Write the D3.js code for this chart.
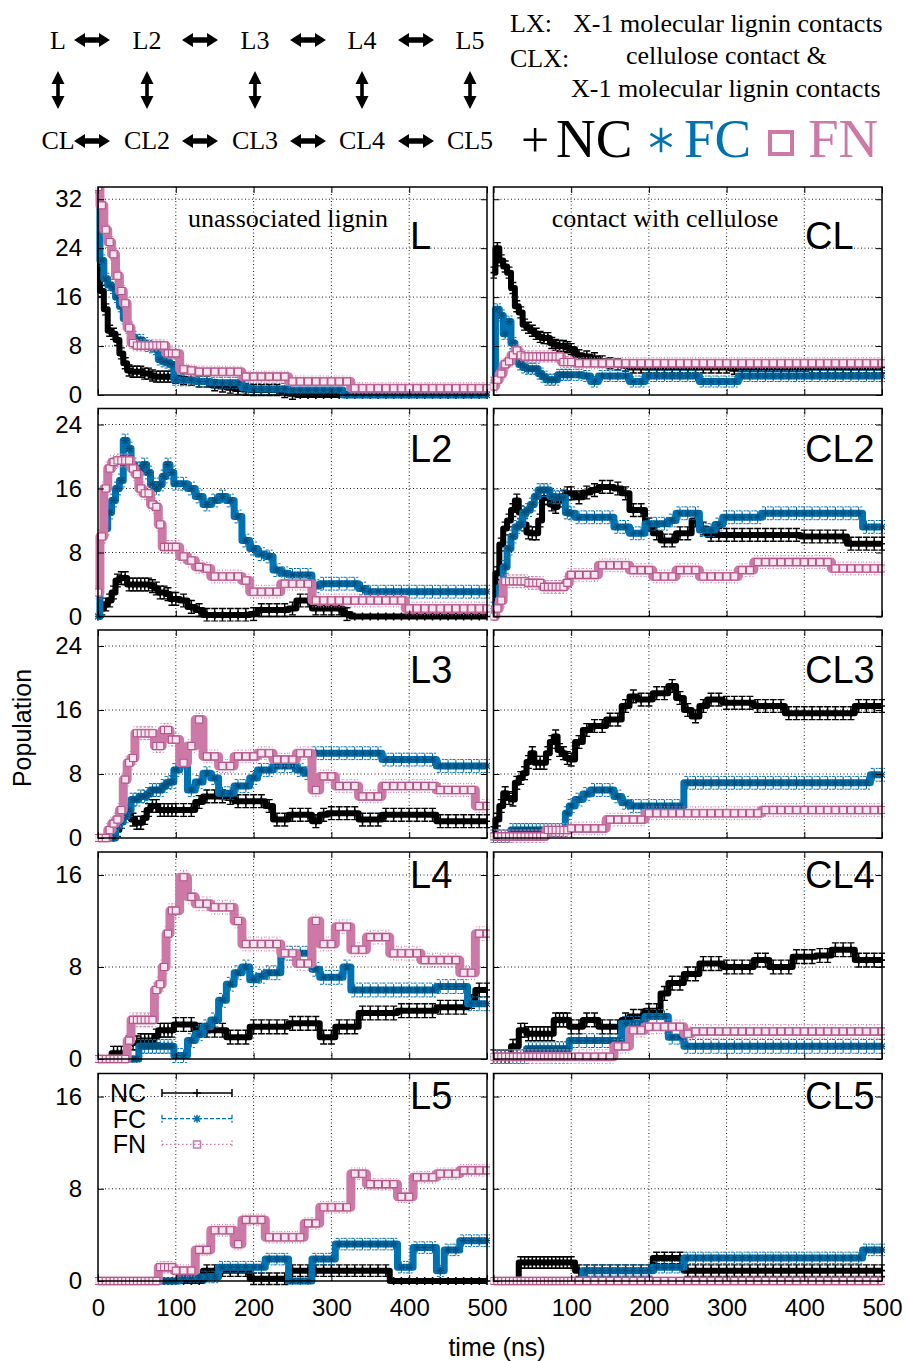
<!DOCTYPE html>
<html>
<head>
<meta charset="utf-8">
<script src="https://cdn.jsdelivr.net/npm/d3@7"></script>
<style>
body { margin: 0; background: #fff; }
svg { display: block; }
</style>
</head>
<body>
<svg id="chart" width="909" height="1361"></svg>
<script>

// time grid (ns) shared by every series
let times = [0, 5, 10, 15, 20, 25, 30, 35, 40, 45, 50, 55, 60, 65, 70, 75, 80, 85, 90, 95, 100,
    110, 120, 130, 140, 150, 160, 170, 180, 190, 200,
    210, 220, 230, 240, 250, 260, 270, 280, 290, 300,
    310, 320, 330, 340, 350, 360, 370, 380, 390, 400,
    410, 420, 430, 440, 450, 460, 470, 480, 490, 500]

let panelNames = ['L', 'CL', 'L2', 'CL2', 'L3', 'CL3', 'L4', 'CL4', 'L5', 'CL5']
let seriesNames = ['NC', 'FC', 'FN']
let rowMax = [34, 26, 26, 18, 18]
let rowTicks = [[0, 8, 16, 24, 32], [0, 8, 16, 24], [0, 8, 16, 24], [0, 8, 16], [0, 8, 16]]
let xTicks = [0, 100, 200, 300, 400, 500]
let errorBars = [0.9, 0.9, 0.8, 0.8, 0.8, 0.8, 0.6, 0.6, 0.5, 0.5]
let topRow = ['L', 'L2', 'L3', 'L4', 'L5']
let bottomRow = ['CL', 'CL2', 'CL3', 'CL4', 'CL5']

// ---- L ----
let ncL = [34, 17, 14, 10.5, 10, 9, 6.8, 5.2, 4, 3.8, 3.8, 3.8, 3.5, 3.5, 3.2, 3, 3, 3, 3, 3, 2.8,
    2.6, 2.5, 2.2, 2.2, 1.6, 1.4, 1.2, 1, 0.9, 0.8,
    0.8, 0.8, 0.8, 0.5, 0.2, 0, 0, 0, 0, 0,
    0, 0, 0, 0, 0, 0, 0, 0, 0, 0,
    0, 0, 0, 0, 0, 0, 0, 0, 0, 0]
let fcL = [34, 22, 19, 18, 17.5, 16, 14.5, 12.5, 11, 9.5, 9, 9, 8.5, 8, 7.8, 7.5, 5.8, 5.5, 5.3, 5, 2.5,
    2.4, 2.4, 2.2, 2.2, 2, 2, 2, 2, 1.2, 1,
    1, 1, 1, 1, 0.8, 0.8, 0.8, 0.8, 0.8, 0.8,
    0.8, 0, 0, 0, 0, 0, 0, 0, 0, 0,
    0, 0, 0, 0, 0, 0, 0, 0, 0, 0]
let fnL = [34, 31, 27, 25, 23, 19.5, 17, 15, 11, 8.5, 8.1, 8.1, 8.1, 8.1, 8.1, 8.1, 8.1, 8.1, 6.8, 6.8, 6.8,
    4.2, 4, 3.8, 3.8, 3.8, 3.8, 3.8, 3.8, 3, 3,
    3, 3, 3, 3, 2.2, 2.2, 2.2, 2.2, 2.2, 2.2,
    2.2, 2.2, 1.1, 1.1, 1.1, 1.1, 1.1, 1.1, 1.1, 1.1,
    1.1, 1.1, 1.1, 1.1, 1.1, 1.1, 1.1, 1.1, 1.1, 1.1]

// ---- CL ----
let ncCL = [20, 24, 22, 21, 20, 17.5, 14.5, 13.5, 11.5, 11, 10.5, 10, 9.5, 9.3, 9.3, 8.5, 8.2, 8, 8, 7.8, 7.5,
    6.5, 6.3, 6, 5.5, 5.2, 5, 4.8, 4.5, 4.5, 4.5,
    4.5, 4.5, 4.5, 4.5, 4.5, 4.5, 4.5, 4.5, 4.5, 4.5,
    4.3, 4.3, 4.3, 4.3, 4.3, 4.3, 4.3, 4.3, 4.3, 4.3,
    4.5, 4.5, 4.5, 4.5, 4.5, 4.5, 4.5, 4.5, 4.5, 4.5]
let fcCL = [2, 14, 13, 10, 12, 8.5, 6, 5, 4.5, 4.3, 4.3, 4.3, 3.5, 3, 2.5, 2.5, 2.5, 3.3, 3.3, 3.3, 3.3,
    3.3, 3.1, 2.2, 3.1, 3.1, 3.1, 3.1, 2.2, 2.2, 3.1,
    3.1, 3.1, 3.1, 3.1, 3.1, 3.1, 2.2, 2.2, 2.2, 2.2,
    2.2, 3.1, 3.1, 3.1, 3.1, 3.1, 3.1, 3.1, 3.1, 3.1,
    3.1, 3.1, 3.1, 3.1, 3.1, 3.1, 3.1, 3.1, 3.1, 3.1]
let fnCL = [1.4, 2.5, 3.5, 5, 5.5, 6.5, 7.3, 6.5, 6.3, 6.3, 6.3, 6.3, 6.3, 6.3, 6.3, 6.3, 6.3, 6.3, 5.4, 5.4, 5.4,
    5.2, 5.2, 5.2, 5.2, 5.2, 5.2, 5.2, 5.2, 5.2, 5.2,
    5.2, 5.2, 5.2, 5.2, 5.2, 5.2, 5.2, 5.2, 5.2, 5.2,
    5.2, 5.2, 5.2, 5.2, 5.2, 5.2, 5.2, 5.2, 5.2, 5.2,
    5.2, 5.2, 5.2, 5.2, 5.2, 5.2, 5.2, 5.2, 5.2, 5.2]

// ---- L2 ----
let ncL2 = [0, 1, 1.5, 2, 3, 4.5, 4.8, 4.8, 4, 4, 4, 4, 4, 4, 3.8, 3.5, 3, 3, 2.8, 2.2, 2.2,
    2, 1.2, 0.8, 0.2, 0.2, 0.2, 0.2, 0.2, 0.2, 0.3,
    0.8, 0.8, 0.8, 0.8, 1, 2, 2, 1, 1, 1,
    1, 0.3, 0, 0, 0, 0, 0, 0, 0, 0,
    0, 0, 0, 0, 0, 0, 0, 0, 0, 0]
let fcL2 = [0, 10, 11, 13, 14.5, 16, 17, 22, 21, 19, 18.5, 18.5, 19, 18, 16.5, 16, 16.5, 17.5, 19, 18, 16.6,
    16.6, 16, 15, 14, 14.5, 15, 14.5, 12.5, 9.5, 8.5,
    7.8, 7.5, 5.8, 5.4, 5.2, 5.2, 5.2, 3.8, 4.1, 4.1,
    4.1, 4.1, 4.1, 3.5, 3.1, 3.1, 3.1, 3.1, 3.1, 3.1,
    3.1, 3.1, 3.1, 3.1, 3.1, 3.1, 3.1, 3.1, 3.1, 3.1]
let fnL2 = [3, 10, 16, 18.5, 19.3, 19.5, 19.5, 19.5, 19.5, 18.5, 17.8, 16, 15.4, 15.4, 14, 13.7, 11.5, 8.7, 8.7, 8.7, 8.7,
    7.5, 7, 6.2, 6, 5, 5, 5, 5, 4.5, 3.1,
    3.1, 3.1, 3.1, 4.1, 4.1, 4.1, 4.1, 2, 2, 2,
    2, 2, 2, 2, 2, 2, 2, 2, 2, 1,
    1, 1, 1, 1, 1, 1, 1, 1, 1, 1]

// ---- CL2 ----
let ncCL2 = [0, 5.4, 9, 11, 12, 13.3, 14.5, 13, 11.5, 10.5, 10.4, 10.4, 12, 14.8, 14.8, 14, 13.7, 14.5, 15, 15.4, 15.4,
    14.9, 15.5, 15.8, 16.2, 16.2, 16, 15.4, 13.3, 13.3, 11.5,
    10.4, 9.5, 9.5, 10.4, 10.4, 12, 11, 10.2, 10.2, 10.2,
    10.2, 10.2, 10.2, 10.2, 10.2, 10.2, 10.2, 10.2, 10.2, 10,
    10, 10, 10, 10, 10, 9.1, 9.1, 9.1, 9.1, 9.1]
let fcCL2 = [1, 1.5, 3.7, 6.2, 8.5, 10, 11.2, 11.5, 13, 13.3, 14, 15, 15.8, 15.8, 15.8, 15, 14.9, 14.9, 14.9, 13, 12.9,
    12.4, 12.4, 12.4, 12.4, 12.4, 11.2, 11.2, 10.4, 10.4, 11.6,
    11.6, 11.6, 12, 12.9, 12.9, 12.9, 10.8, 10.8, 11.5, 12.4,
    12.4, 12.4, 12.4, 12.4, 12.9, 12.9, 12.9, 12.9, 12.9, 12.9,
    12.9, 12.9, 12.9, 12.9, 12.9, 12.9, 12.9, 11.2, 11.2, 11.2]
let fnCL2 = [0, 1, 2, 4.4, 4.4, 4.4, 4.4, 4.4, 4.4, 4.2, 4.2, 4.2, 4.2, 3.7, 3.7, 3.7, 3.7, 3.7, 3.7, 4.2, 5.2,
    5.2, 5.2, 5.2, 6.4, 6.4, 6.4, 6.4, 5.8, 5.8, 5.8,
    5, 5, 5, 5.8, 5.8, 5.8, 5, 5, 5, 5,
    5, 5.8, 5.8, 6.8, 6.8, 6.8, 6.8, 6.8, 6.8, 6.8,
    6.8, 6.8, 6.8, 6, 6, 6, 6, 6, 6, 6]

// ---- L3 ----
let ncL3 = [0, 0, 0, 0, 0, 1, 2, 3.3, 3.3, 2.3, 1.9, 1.9, 2.5, 3.5, 4, 4, 3.5, 3.5, 3.5, 3.5, 3.5,
    3.5, 3.5, 4.5, 5.2, 5.2, 5.2, 5, 4.6, 4.6, 4.6,
    4.6, 4, 2.3, 2.3, 2.9, 2.9, 2.9, 2.1, 2.9, 3.1,
    3.1, 3.1, 3.1, 2.3, 2.3, 2.3, 2.9, 2.9, 2.9, 2.9,
    2.9, 2.9, 2.9, 2.1, 2.1, 2.1, 2.1, 2.1, 2.1, 2.1]
let fcL3 = [0, 0, 0, 0, 0, 1.5, 2, 2.7, 3.5, 4.8, 4.8, 5.2, 5.2, 5.5, 6, 6, 6, 6.5, 6.9, 7, 8.5,
    9.5, 6, 7, 8.1, 7.5, 5.6, 5.6, 6.5, 6.5, 7.5,
    8.5, 8.5, 9, 9, 9, 8.5, 8.1, 10.6, 10.6, 10.6,
    10.6, 10.6, 10.6, 10.6, 10.6, 10.6, 9.8, 9.8, 9.8, 9.8,
    9.8, 9.8, 9.8, 9, 9, 9, 9, 9, 9, 9]
let fnL3 = [0, 0, 0, 1, 1.8, 2.3, 3.5, 7.3, 9.4, 10, 13.1, 13.1, 13.1, 13.1, 13.1, 11.5, 11.5, 13.5, 13.5, 12.3, 12.3,
    9.4, 11.5, 14.8, 10.2, 10.2, 9, 9, 10.2, 10.2, 10.2,
    10.6, 10.6, 9.8, 9.8, 9.8, 10.6, 10.6, 6, 7.7, 7.7,
    6.5, 6.5, 6.5, 5.2, 5.2, 5.2, 6.5, 6.5, 6.5, 6.5,
    6.5, 6.5, 6.5, 6, 6, 6, 6, 6, 4, 4]

// ---- CL3 ----
let ncCL3 = [0.6, 2.3, 4, 5.6, 5, 4.8, 6.9, 7.5, 8.1, 9.5, 10.6, 9.4, 9.4, 9.4, 10.6, 12, 12.7, 11, 10.6, 10, 9.8,
    12, 13.5, 14, 14, 14.8, 14.8, 16.5, 17.7, 17.3, 17.3,
    18.1, 18.1, 19, 17.5, 16, 15.2, 16.5, 17.3, 17.3, 16.9,
    16.9, 16.9, 16.9, 16.5, 16.5, 16.5, 16.5, 15.6, 15.6, 15.6,
    15.6, 15.6, 15.6, 15.6, 15.6, 15.6, 16.5, 16.5, 16.5, 16.5]
let fcCL3 = [0.2, 0.2, 0.2, 0.2, 0.2, 1, 1, 1, 1, 1, 1, 1, 1, 1, 1, 1, 1, 1, 1, 3.1, 4,
    4.8, 5.5, 6, 6, 6, 5.2, 4.4, 4, 4, 4,
    4, 4, 4, 4, 6.9, 6.9, 6.9, 6.9, 6.9, 6.9,
    6.9, 6.9, 6.9, 6.9, 6.9, 6.9, 6.9, 6.9, 6.9, 6.9,
    6.9, 6.9, 6.9, 6.9, 6.9, 6.9, 6.9, 6.9, 7.9, 7.9]
let fnCL3 = [0.2, 0.2, 0.2, 0.2, 0.2, 0.2, 0.2, 0.2, 0.2, 0.2, 0.2, 0.2, 0.2, 0.2, 1, 1, 1, 1, 1, 1, 1.2,
    1.2, 1.2, 1.2, 1.2, 2.3, 2.3, 2.3, 2.3, 2.3, 3.1,
    3.1, 3.1, 3.1, 3.1, 3.1, 3.1, 3.1, 3.1, 3.1, 3.1,
    3.1, 3.1, 3.1, 3.1, 3.5, 3.5, 3.5, 3.5, 3.5, 3.5,
    3.5, 3.5, 3.5, 3.5, 3.5, 3.5, 3.5, 3.5, 3.5, 3.5]

// ---- L4 ----
let ncL4 = [0, 0, 0, 0, 0.5, 0.5, 0.5, 0.5, 1.4, 1.4, 1.4, 1.6, 1.6, 1.6, 1.6, 2, 2.5, 2.5, 2.5, 2.5, 3,
    3, 3, 2.5, 2.5, 2.5, 2.5, 1.9, 1.9, 1.9, 2.8,
    2.8, 2.8, 2.8, 2.8, 3.1, 3.1, 3.1, 3.1, 1.9, 1.9,
    2.8, 2.8, 2.8, 4, 4, 4, 4, 4, 4.2, 4.2,
    4.2, 4.2, 4.2, 4.5, 4.5, 4.5, 4.5, 5, 6, 6]
let fcL4 = [0, 0, 0, 0, 0, 0, 0, 0, 0, 0, 0, 1.1, 1.1, 1.1, 1.1, 1.1, 1.1, 1.1, 1.1, 1.1, 0.3,
    0.3, 1.6, 2.2, 2.8, 3.4, 5.1, 6.5, 7.5, 8, 6.9,
    7.2, 7.5, 7.5, 9.2, 9.2, 9.2, 9.2, 7.8, 7.1, 7.1,
    7.1, 8, 6, 6, 6, 6, 6, 6, 6, 6,
    6, 6, 6, 6.3, 6.3, 6.3, 6.3, 4.8, 4.8, 4.8]
let fnL4 = [0, 0, 0, 0, 0, 0, 0, 0, 1.6, 3.4, 3.4, 3.4, 3.4, 3.4, 3.4, 6, 6.5, 8, 10.9, 12.9, 12.9,
    15.8, 14.1, 13.5, 13.5, 13.2, 13.2, 13.2, 12, 10, 10,
    10, 10, 10, 9.2, 9.2, 8.3, 8.3, 12, 10, 10,
    11.5, 11.5, 9.5, 9.5, 10.6, 10.6, 10.6, 9.2, 9.2, 9.2,
    9.2, 8.6, 8.6, 8.6, 8.6, 8.6, 7.5, 7.5, 10.9, 10.9]

// ---- CL4 ----
let ncCL4 = [0.2, 0.2, 0.2, 0.2, 0.2, 1.1, 1.1, 2.5, 2.5, 2.2, 2.2, 2.2, 2.2, 2.2, 2.2, 2.2, 3.4, 3.4, 3.4, 3.4, 2.8,
    2.8, 3.4, 3.4, 2.8, 2.8, 2.8, 3.4, 3.7, 3.7, 4.2,
    4.2, 5.7, 6.6, 6.6, 7.4, 7.4, 8.3, 8.3, 8.3, 8,
    8, 8, 8, 8.6, 8.6, 8, 8, 8, 8.9, 8.9,
    8.9, 9, 9, 9.5, 9.5, 9.5, 8.6, 8.6, 8.6, 8.6]
let fcCL4 = [0.2, 0.2, 0.2, 0.2, 0.2, 0.2, 0.2, 0.2, 0.2, 0.9, 0.9, 0.9, 0.9, 0.9, 0.9, 0.9, 0.9, 0.9, 0.9, 0.9, 1.6,
    1.6, 1.6, 1.6, 1.6, 1.6, 1.6, 3.1, 3.1, 3.1, 3.7,
    3.7, 3.7, 1.9, 1.9, 1.1, 1.1, 1.1, 1.1, 1.1, 1.1,
    1.1, 1.1, 1.1, 1.1, 1.1, 1.1, 1.1, 1.1, 1.1, 1.1,
    1.1, 1.1, 1.1, 1.1, 1.1, 1.1, 1.1, 1.1, 1.1, 1.1]
let fnCL4 = [0.2, 0.2, 0.2, 0.2, 0.2, 0.2, 0.2, 0.2, 0.2, 0.2, 0.2, 0.2, 0.2, 0.2, 0.2, 0.2, 0.2, 0.2, 0.2, 0.2, 0.2,
    0.2, 0.2, 0.2, 0.2, 0.2, 1.1, 1.1, 2.5, 2.5, 2.8,
    2.8, 2.8, 2.8, 2.8, 2.2, 2.4, 2.4, 2.4, 2.4, 2.4,
    2.4, 2.4, 2.4, 2.4, 2.4, 2.4, 2.4, 2.4, 2.4, 2.4,
    2.4, 2.4, 2.4, 2.4, 2.4, 2.4, 2.4, 2.4, 2.4, 2.4]

// ---- L5 ----
let ncL5 = [0, 0, 0, 0, 0, 0, 0, 0, 0, 0, 0, 0, 0, 0, 0, 0, 0, 0, 0, 0, 0,
    0, 0, 0, 0.9, 0.9, 0.9, 0.9, 0.9, 0.9, 0.2,
    0.2, 0.2, 0.2, 0.2, 0.9, 0.9, 0.9, 0.9, 0.9, 0.9,
    0.9, 0.9, 0.9, 0.9, 0.9, 0.9, 0.9, 0, 0, 0,
    0, 0, 0, 0, 0, 0, 0, 0, 0, 0]
let fcL5 = [0, 0, 0, 0, 0, 0, 0, 0, 0, 0, 0, 0, 0, 0, 0, 0, 0, 0, 0, 0, 0,
    0.35, 0.35, 0.35, 0.35, 0.35, 1.2, 1.2, 1.2, 1.2, 1.2,
    1.2, 1.9, 1.9, 1.9, 0, 0, 0, 1.9, 1.9, 1.9,
    3.2, 3.2, 3.2, 3.2, 3.2, 3.2, 3.2, 3.2, 1.2, 1.2,
    2.9, 2.9, 2.9, 0.9, 2.7, 2.7, 3.5, 3.5, 3.5, 3.5]
let fnL5 = [0, 0, 0, 0, 0, 0, 0, 0, 0, 0, 0, 0, 0, 0, 0, 0, 1.2, 1.2, 1.2, 1.2, 0.9,
    0.9, 0.9, 2.7, 2.7, 4.4, 4.4, 4.4, 3.2, 5.3, 5.3,
    5.3, 3.8, 3.8, 3.8, 3.8, 3.8, 5, 5, 6.4, 6.4,
    6.4, 6.4, 9.3, 9.3, 8.4, 8.4, 8.4, 8.4, 7.3, 7.3,
    9, 9, 9, 9.3, 9.3, 9.3, 9.6, 9.6, 9.6, 9.6]

// ---- CL5 ----
let ncCL5 = [0, 0, 0, 0, 0, 0, 0, 1.6, 1.6, 1.6, 1.6, 1.6, 1.6, 1.6, 1.6, 1.6, 1.6, 1.6, 1.6, 1.6, 1.6,
    0.9, 0.9, 0.9, 0.9, 0.9, 0.9, 0.9, 0.9, 0.9, 0.9,
    2, 2, 2, 2, 0.9, 0.9, 0.9, 0.9, 0.9, 0.9,
    0.9, 0.9, 0.9, 0.9, 0.9, 0.9, 0.9, 0.9, 0.9, 0.9,
    0.9, 0.9, 0.9, 0.9, 0.9, 0.9, 0.9, 0.9, 0.9, 0.9]
let fcCL5 = [0, 0, 0, 0, 0, 0, 0, 0, 0, 0, 0, 0, 0, 0, 0, 0, 0, 0, 0, 0, 0,
    0, 0.9, 0.9, 0.9, 0.9, 0.9, 0.9, 0.9, 0.9, 0.9,
    1.2, 1.2, 1.2, 1.2, 2, 2, 2, 2, 2, 2,
    2, 2, 2, 2, 2, 2, 2, 2, 2, 2,
    2, 2, 2, 2, 2, 2, 2, 2.7, 2.7, 2.7]
let fnCL5 = [0, 0, 0, 0, 0, 0, 0, 0, 0, 0, 0, 0, 0, 0, 0, 0, 0, 0, 0, 0, 0,
    0, 0, 0, 0, 0, 0, 0, 0, 0, 0,
    0, 0, 0, 0, 0, 0, 0, 0, 0, 0,
    0, 0, 0, 0, 0, 0, 0, 0, 0, 0,
    0, 0, 0, 0, 0, 0, 0, 0, 0, 0]

let panelData = {
    'L':   {NC: ncL,   FC: fcL,   FN: fnL},
    'CL':  {NC: ncCL,  FC: fcCL,  FN: fnCL},
    'L2':  {NC: ncL2,  FC: fcL2,  FN: fnL2},
    'CL2': {NC: ncCL2, FC: fcCL2, FN: fnCL2},
    'L3':  {NC: ncL3,  FC: fcL3,  FN: fnL3},
    'CL3': {NC: ncCL3, FC: fcCL3, FN: fnCL3},
    'L4':  {NC: ncL4,  FC: fcL4,  FN: fnL4},
    'CL4': {NC: ncCL4, FC: fcCL4, FN: fnCL4},
    'L5':  {NC: ncL5,  FC: fcL5,  FN: fnL5},
    'CL5': {NC: ncCL5, FC: fcCL5, FN: fnCL5}
}

let colors = {
    'NC': '#000000',
    'FC': '#0072b2',
    'FN': '#cc79a7'
}
let bandWidth = {'NC': 6, 'FC': 7, 'FN': 9}
let errDash = {'NC': null, 'FC': '3,2', 'FN': '1,2'}
let markers = {
    'NC': 'M-4,0H4M0,-4V4',
    'FC': 'M-4,0H4M0,-4V4M-3,-3L3,3M-3,3L3,-3',
    'FN': 'M-3.5,-3.5H3.5V3.5H-3.5Z'
}

// layout
let colX = [[98, 487], [493.5, 882]]
let rowY = [[187, 395], [408.5, 616.5], [630, 838], [852, 1059], [1073.5, 1281]]
let labelDrop = [62, 53.5, 53, 36, 35.5]
let sans = 'Liberation Sans, Arial, Helvetica, sans-serif'
let serif = 'Liberation Serif, Times New Roman, serif'

let svg = d3.select('#chart')

let hArrow = (cx, cy) => {
    let L = 18, h = 11, w = 7, s = 2.8
    return `M${cx-L},${cy}L${cx-L+h},${cy-w}L${cx-L+h},${cy-s}L${cx+L-h},${cy-s}L${cx+L-h},${cy-w}` +
           `L${cx+L},${cy}L${cx+L-h},${cy+w}L${cx+L-h},${cy+s}L${cx-L+h},${cy+s}L${cx-L+h},${cy+w}Z`
}
let vArrow = (cx, cy) => {
    let L = 19, h = 13, w = 6.5, s = 1.8
    return `M${cx},${cy-L}L${cx+w},${cy-L+h}L${cx+s},${cy-L+h}L${cx+s},${cy+L-h}L${cx+w},${cy+L-h}` +
           `L${cx},${cy+L}L${cx-w},${cy+L-h}L${cx-s},${cy+L-h}L${cx-s},${cy-L+h}L${cx-w},${cy-L+h}Z`
}

let drawHeader = () => {
    let head = svg.append('g')
    let labelX = [58, 147, 255, 362, 470]
    let arrowX = [92, 200, 308, 416]

    head.selectAll('.top-label')
        .data(topRow)
        .enter()
        .append('text')
        .attr('x', (d, i) => labelX[i])
        .attr('y', 49)
        .attr('text-anchor', 'middle')
        .style('font-family', serif)
        .style('font-size', '26px')
        .text(d => d)

    head.selectAll('.bottom-label')
        .data(bottomRow)
        .enter()
        .append('text')
        .attr('x', (d, i) => labelX[i])
        .attr('y', 149)
        .attr('text-anchor', 'middle')
        .style('font-family', serif)
        .style('font-size', '26px')
        .text(d => d)

    arrowX.forEach(ax => {
        head.append('path').attr('d', hArrow(ax, 40)).attr('fill', '#000')
        head.append('path').attr('d', hArrow(ax, 141)).attr('fill', '#000')
    })
    labelX.forEach(lx => {
        head.append('path').attr('d', vArrow(lx, 90)).attr('fill', '#000')
    })

    let note = (x, y, txt, size, color) => {
        head.append('text')
            .attr('x', x).attr('y', y)
            .style('font-family', serif)
            .style('font-size', size + 'px')
            .attr('fill', color || '#000')
            .text(txt)
    }
    note(510, 32, 'LX:', 26)
    note(573, 32, 'X-1 molecular lignin contacts', 26)
    note(510, 67, 'CLX:', 26)
    note(626, 64, 'cellulose contact &', 26)
    note(571, 97, 'X-1 molecular lignin contacts', 26)

    note(521, 157, '+', 50)
    note(556, 157, 'NC', 55)
    head.append('path')
        .attr('transform', 'translate(661,140)')
        .attr('d', d3.symbol(d3.symbolAsterisk, 420)())
        .attr('fill', 'none')
        .attr('stroke', colors['FC'])
        .attr('stroke-width', 2.6)
    note(684, 157, 'FC', 55, colors['FC'])
    head.append('rect')
        .attr('x', 770).attr('y', 132).attr('width', 22).attr('height', 22)
        .attr('fill', 'none')
        .attr('stroke', colors['FN'])
        .attr('stroke-width', 4)
    note(808, 157, 'FN', 55, colors['FN'])
}

let drawPanel = (name, i) => {
    let row = Math.floor(i / 2)
    let col = i % 2
    let x = d3.scaleLinear().domain([0, 500]).range(colX[col])
    let y = d3.scaleLinear().domain([0, rowMax[row]]).range([rowY[row][1], rowY[row][0]])
    let x0 = colX[col][0], x1 = colX[col][1]
    let y0 = rowY[row][0], y1 = rowY[row][1]

    let g = svg.append('g').attr('class', 'panel')

    svg.append('clipPath')
        .attr('id', 'clip' + i)
        .append('rect')
        .attr('x', x0 - 3).attr('y', y0)
        .attr('width', x1 - x0 + 6).attr('height', y1 - y0 + 5)

    // dotted grid
    g.selectAll('.vgrid')
        .data(xTicks.slice(1, -1))
        .enter()
        .append('line')
        .attr('x1', d => x(d)).attr('x2', d => x(d))
        .attr('y1', y0).attr('y2', y1)
        .attr('stroke', '#000').attr('stroke-width', 0.9)
        .attr('stroke-dasharray', '1,2.5')
    g.selectAll('.hgrid')
        .data(rowTicks[row].slice(1))
        .enter()
        .append('line')
        .attr('x1', x0).attr('x2', x1)
        .attr('y1', d => y(d)).attr('y2', d => y(d))
        .attr('stroke', '#000').attr('stroke-width', 0.9)
        .attr('stroke-dasharray', '1,2.5')

    let plot = g.append('g').attr('clip-path', 'url(#clip' + i + ')')
    let err = errorBars[i]

    seriesNames.forEach(s => {
        let values = panelData[name][s]
        let points = values.map((v, j) => ({t: times[j], v: v}))
        let line = d3.line().x(d => x(d.t)).y(d => y(d.v)).curve(d3.curveStep)

        plot.append('path')
            .datum(points)
            .attr('d', line)
            .attr('fill', 'none')
            .attr('stroke', colors[s])
            .attr('stroke-width', bandWidth[s])
            .attr('stroke-linejoin', 'round')

        let withErr = points.filter(d => d.v > 0)
        let bars = plot.append('g')
            .attr('stroke', colors[s])
            .attr('stroke-width', s === 'NC' ? 1.4 : 1)
            .attr('stroke-dasharray', errDash[s])
        bars.selectAll('path')
            .data(withErr)
            .enter()
            .append('path')
            .attr('d', d => {
                let cx = x(d.t), ya = y(d.v - err), yb = y(d.v + err)
                return `M${cx},${ya}V${yb}M${cx-3.5},${ya}H${cx+3.5}M${cx-3.5},${yb}H${cx+3.5}`
            })

        plot.append('g')
            .selectAll('path')
            .data(points)
            .enter()
            .append('path')
            .attr('transform', d => 'translate(' + x(d.t) + ',' + y(d.v) + ')')
            .attr('d', markers[s])
            .attr('fill', s === 'FN' ? '#f6e4ee' : 'none')
            .attr('stroke', s === 'NC' ? '#000' : (s === 'FC' ? '#00507e' : '#b4568a'))
            .attr('stroke-width', s === 'NC' ? 1.6 : 1.1)
    })

    // inward ticks on all four sides
    let styleAxis = (sel) => {
        sel.select('.domain').remove()
        sel.selectAll('line').attr('stroke', '#000').attr('stroke-width', 1)
        sel.selectAll('text')
            .style('font-family', sans)
            .style('font-size', '24px')
            .attr('fill', '#000')
    }

    g.append('g')
        .attr('transform', 'translate(' + x0 + ',0)')
        .call(d3.axisLeft(y).tickValues(rowTicks[row]).tickSize(-6).tickPadding(16)
            .tickFormat(col === 0 ? d3.format('d') : () => ''))
        .call(styleAxis)
    g.append('g')
        .attr('transform', 'translate(' + x1 + ',0)')
        .call(d3.axisRight(y).tickValues(rowTicks[row]).tickSize(-6).tickFormat(() => ''))
        .call(styleAxis)
    g.append('g')
        .attr('transform', 'translate(0,' + y0 + ')')
        .call(d3.axisTop(x).tickValues(xTicks).tickSize(-6).tickFormat(() => ''))
        .call(styleAxis)
    g.append('g')
        .attr('transform', 'translate(0,' + y1 + ')')
        .call(d3.axisBottom(x).tickValues(xTicks).tickSize(-6).tickPadding(18)
            .tickFormat(d => (row === 4 && !(col === 1 && d === 0)) ? d : ''))
        .call(styleAxis)

    g.append('rect')
        .attr('x', x0).attr('y', y0)
        .attr('width', x1 - x0).attr('height', y1 - y0)
        .attr('fill', 'none')
        .attr('stroke', '#000')
        .attr('stroke-width', 1.5)

    g.append('text')
        .attr('x', col === 0 ? 410 : 805)
        .attr('y', y0 + labelDrop[row])
        .style('font-family', sans)
        .style('font-size', '38px')
        .text(name)

    if (row === 0) {
        g.append('text')
            .attr('x', col === 0 ? 288 : 665)
            .attr('y', 227)
            .attr('text-anchor', 'middle')
            .style('font-family', serif)
            .style('font-size', '26px')
            .text(col === 0 ? 'unassociated lignin' : 'contact with cellulose')
    }
}

let drawLegend = () => {
    let lg = svg.append('g')
    seriesNames.forEach((s, k) => {
        let base = 1102 + k * 25.7
        let ly = base - 9
        lg.append('text')
            .attr('x', 146).attr('y', base)
            .attr('text-anchor', 'end')
            .style('font-family', sans)
            .style('font-size', '25px')
            .text(s)
        lg.append('path')
            .attr('d', `M162,${ly}H232M162,${ly-4}V${ly+4}M232,${ly-4}V${ly+4}`)
            .attr('stroke', colors[s])
            .attr('stroke-width', s === 'NC' ? 1.5 : 1.3)
            .attr('stroke-dasharray', s === 'NC' ? null : (s === 'FC' ? '4,2' : '1.5,2.5'))
            .attr('fill', 'none')
        lg.append('path')
            .attr('transform', 'translate(197,' + ly + ')')
            .attr('d', markers[s])
            .attr('fill', 'none')
            .attr('stroke', colors[s])
            .attr('stroke-width', 1.5)
    })
}

let drawAxisTitles = () => {
    svg.append('text')
        .attr('x', 497).attr('y', 1356)
        .attr('text-anchor', 'middle')
        .style('font-family', sans)
        .style('font-size', '25px')
        .text('time (ns)')
    svg.append('text')
        .attr('transform', 'translate(31,728) rotate(-90)')
        .attr('text-anchor', 'middle')
        .style('font-family', sans)
        .style('font-size', '25px')
        .text('Population')
}

drawHeader()
panelNames.forEach((name, i) => drawPanel(name, i))
drawLegend()
drawAxisTitles()

</script>
</body>
</html>
